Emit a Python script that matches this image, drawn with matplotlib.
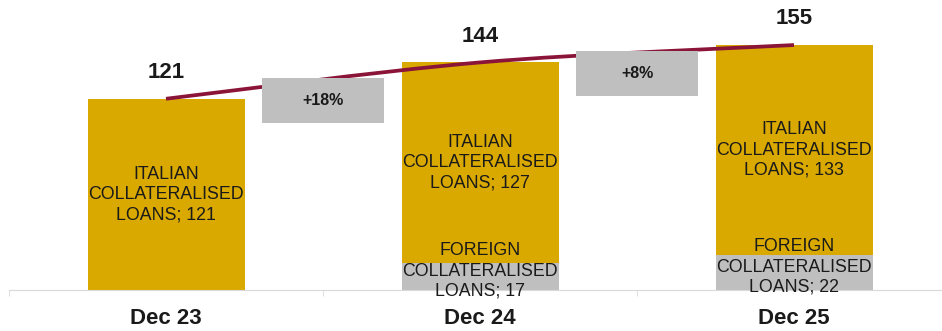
import numpy as np
import matplotlib.pyplot as plt
from matplotlib.path import Path
from matplotlib.patches import PathPatch, Rectangle

# data
periods = ["Dec 23", "Dec 24", "Dec 25"]
italian = [121, 127, 133]
foreign = [0, 17, 22]
totals = [121, 144, 155]
growth = ["+18%", "+8%"]

GOLD = "#DAA900"
GRAY = "#BFBFBF"
MAROON = "#8B1538"
TXT = "#1a1a1a"

plt.rcParams['font.family'] = ['Liberation Sans', 'DejaVu Sans']

fig = plt.figure(figsize=(9.42, 3.31), dpi=100)
ax = fig.add_axes([9 / 942, 41 / 331, 1.0, 290 / 331])

x = np.arange(len(periods))
w = 0.5
ax.bar(x, foreign, w, color=GRAY, zorder=2)
ax.bar(x, italian, w, bottom=foreign, color=GOLD, zorder=2)

# smooth trend line through totals (Catmull-Rom as bezier segments)
pts = np.column_stack([x, totals]).astype(float)
verts = [pts[0]]
codes = [Path.MOVETO]
n = len(pts)
for i in range(n - 1):
    p_prev = pts[max(i - 1, 0)]
    p0, p1 = pts[i], pts[i + 1]
    p_next = pts[min(i + 2, n - 1)]
    c1 = p0 + (p1 - p_prev) / 6
    c2 = p1 - (p_next - p0) / 6
    verts += [c1, c2, p1]
    codes += [Path.CURVE4] * 3
ax.add_patch(PathPatch(Path(verts, codes), fill=False, edgecolor=MAROON,
                       lw=2.7, capstyle='butt', zorder=3))

# growth boxes between bars
bw, bh = 0.39, 28.5
for i, g in enumerate(growth):
    cx = i + 0.5
    cy = (totals[i] + totals[i + 1]) / 2 - 12.5
    ax.add_patch(Rectangle((cx - bw / 2, cy - bh / 2), bw, bh,
                           facecolor=GRAY, edgecolor='none', zorder=4))
    ax.text(cx, cy, g, ha='center', va='center', fontsize=11.5,
            weight='bold', color=TXT, zorder=5)

# total labels
for i, t in enumerate(totals):
    ax.annotate(str(t), (i, t), xytext=(0, 19), textcoords='offset points',
                ha='center', va='center', fontsize=16, weight='bold', color=TXT)

# segment labels
for i in x:
    ax.text(i, foreign[i] + italian[i] / 2,
            f"ITALIAN\nCOLLATERALISED\nLOANS; {italian[i]}",
            ha='center', va='center', fontsize=12.8, linespacing=1.25,
            color=TXT, zorder=5)
    if foreign[i] > 0:
        ax.text(i, foreign[i] / 2 + 3.5,
                f"FOREIGN\nCOLLATERALISED\nLOANS; {foreign[i]}",
                ha='center', va='center', fontsize=12.8, linespacing=1.25,
                color=TXT, zorder=5)

ax.set_xlim(-0.5, 2.5)
ax.set_ylim(0, 183.5)
for s in ['top', 'left', 'right']:
    ax.spines[s].set_visible(False)
ax.spines['bottom'].set_color('#d9d9d9')
ax.yaxis.set_visible(False)
ax.set_xticks(x)
ax.set_xticklabels(periods, fontsize=16, weight='bold', color=TXT)
ax.set_xticks([-0.5, 0.5, 1.5, 2.5], minor=True)
ax.tick_params(axis='x', which='major', length=0, pad=13)
ax.tick_params(axis='x', which='minor', length=4.5, color='#d9d9d9')

fig.savefig("out.png", dpi=100)
